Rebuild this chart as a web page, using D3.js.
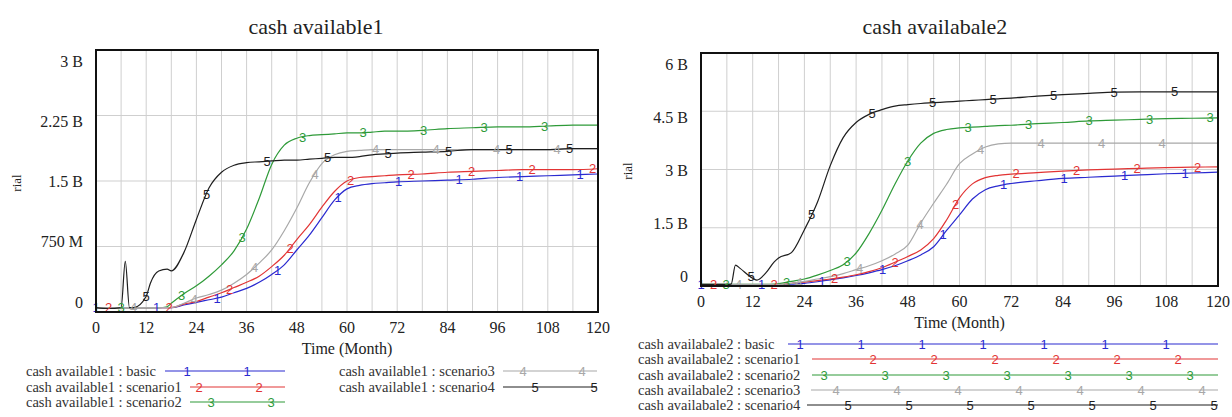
<!DOCTYPE html>
<html>
<head>
<meta charset="utf-8">
<script src="https://cdn.jsdelivr.net/npm/d3@7"></script>
<style>
body { margin: 0; background: #fff; }
svg { display: block; }
text { font-family: "Liberation Serif", "Times New Roman", serif; fill: #222; }
</style>
</head>
<body>
<svg width="1232" height="417"></svg>
<script>
// time grid (months) shared by both charts
const months = [0, 3, 6, 7, 8, 9, 12, 13, 15, 17, 18, 21, 24, 27, 30, 33, 36, 39, 42, 45, 48, 51, 54, 57, 60, 63, 66, 69, 72, 78, 84, 90, 96, 102, 108, 114, 120]

// cash available1, values in billion rial
const cash1Basic = [0.05, 0.05, 0.05, 0.05, 0.05, 0.05, 0.05, 0.05, 0.05, 0.05, 0.05, 0.08, 0.11, 0.14, 0.17, 0.22, 0.27, 0.34, 0.43, 0.54, 0.71, 0.88, 1.08, 1.28, 1.41, 1.45, 1.47, 1.48, 1.49, 1.50, 1.51, 1.52, 1.54, 1.55, 1.56, 1.57, 1.58]
const cash1Scen1 = [0.05, 0.05, 0.05, 0.05, 0.05, 0.05, 0.05, 0.05, 0.05, 0.05, 0.05, 0.09, 0.12, 0.17, 0.22, 0.28, 0.34, 0.41, 0.52, 0.65, 0.83, 1.00, 1.20, 1.38, 1.50, 1.54, 1.55, 1.56, 1.57, 1.58, 1.60, 1.61, 1.62, 1.63, 1.63, 1.63, 1.64]
const cash1Scen2 = [0.05, 0.05, 0.05, 0.05, 0.05, 0.05, 0.05, 0.05, 0.05, 0.06, 0.10, 0.21, 0.30, 0.41, 0.54, 0.70, 0.95, 1.30, 1.69, 1.91, 1.99, 2.02, 2.03, 2.04, 2.05, 2.05, 2.06, 2.07, 2.07, 2.08, 2.10, 2.11, 2.12, 2.12, 2.13, 2.14, 2.14]
const cash1Scen3 = [0.05, 0.05, 0.05, 0.05, 0.05, 0.05, 0.05, 0.05, 0.05, 0.05, 0.05, 0.10, 0.16, 0.20, 0.25, 0.33, 0.43, 0.56, 0.71, 0.93, 1.19, 1.48, 1.70, 1.80, 1.84, 1.85, 1.86, 1.86, 1.86, 1.86, 1.86, 1.86, 1.86, 1.86, 1.86, 1.87, 1.87]
const cash1Scen4 = [0.05, 0.04, 0.05, 0.58, 0.05, 0.05, 0.18, 0.33, 0.47, 0.49, 0.47, 0.68, 1.06, 1.42, 1.60, 1.68, 1.71, 1.72, 1.73, 1.74, 1.74, 1.75, 1.76, 1.77, 1.77, 1.78, 1.80, 1.81, 1.82, 1.83, 1.84, 1.86, 1.86, 1.86, 1.86, 1.87, 1.87]

// cash availabale2, values in billion rial
const cash2Basic = [0.03, 0.03, 0.03, 0.03, 0.03, 0.03, 0.03, 0.03, 0.03, 0.03, 0.03, 0.05, 0.07, 0.11, 0.16, 0.21, 0.27, 0.34, 0.42, 0.52, 0.65, 0.80, 1.01, 1.43, 1.83, 2.24, 2.48, 2.58, 2.64, 2.71, 2.77, 2.80, 2.83, 2.86, 2.89, 2.91, 2.93]
const cash2Scen1 = [0.03, 0.03, 0.03, 0.03, 0.03, 0.03, 0.03, 0.03, 0.03, 0.03, 0.03, 0.07, 0.10, 0.14, 0.18, 0.23, 0.29, 0.37, 0.47, 0.61, 0.76, 0.93, 1.22, 1.70, 2.27, 2.63, 2.79, 2.85, 2.88, 2.92, 2.96, 2.99, 3.01, 3.03, 3.05, 3.06, 3.07]
const cash2Scen2 = [0.04, 0.04, 0.04, 0.04, 0.04, 0.04, 0.04, 0.04, 0.04, 0.05, 0.06, 0.12, 0.18, 0.28, 0.40, 0.55, 0.85, 1.35, 1.95, 2.62, 3.22, 3.68, 3.93, 4.03, 4.07, 4.09, 4.11, 4.13, 4.14, 4.18, 4.21, 4.25, 4.27, 4.29, 4.31, 4.32, 4.33]
const cash2Scen3 = [0.04, 0.04, 0.04, 0.04, 0.04, 0.04, 0.04, 0.04, 0.04, 0.04, 0.04, 0.07, 0.12, 0.18, 0.24, 0.32, 0.42, 0.52, 0.65, 0.82, 1.05, 1.62, 2.13, 2.62, 3.15, 3.40, 3.58, 3.66, 3.68, 3.68, 3.68, 3.68, 3.68, 3.68, 3.68, 3.68, 3.68]
const cash2Scen4 = [0.04, 0.04, 0.04, 0.05, 0.54, 0.46, 0.20, 0.15, 0.33, 0.62, 0.72, 0.86, 1.45, 2.15, 3.10, 3.82, 4.21, 4.42, 4.54, 4.63, 4.67, 4.70, 4.72, 4.74, 4.76, 4.78, 4.80, 4.82, 4.84, 4.89, 4.93, 4.96, 4.99, 5.00, 5.00, 5.00, 5.00]

const xTicks = [0, 12, 24, 36, 48, 60, 72, 84, 96, 108, 120]
const yTicks1 = [0, 0.75, 1.5, 2.25, 3]
const yLabels1 = ["0", "750 M", "1.5 B", "2.25 B", "3 B"]
const yTicks2 = [0, 1.5, 3, 4.5, 6]
const yLabels2 = ["0", "1.5 B", "3 B", "4.5 B", "6 B"]
const scenarioNames = ["basic", "scenario1", "scenario2", "scenario3", "scenario4"]
const colors = ["#2a2ad0", "#e23434", "#2e9a38", "#a8a8a8", "#1e1e1e"]

const svg = d3.select("svg")

function valueAt(series, t) {
  let i = d3.bisectRight(months, t)
  if (i <= 0) return series[0]
  if (i >= months.length) return series[series.length - 1]
  let t0 = months[i - 1], t1 = months[i]
  let f = (t - t0) / (t1 - t0)
  return series[i - 1] + f * (series[i] - series[i - 1])
}

function drawChart(opt) {
  const g = svg.append("g")
  const x = d3.scaleLinear().domain([0, 120]).range([opt.left, opt.right])
  const y = d3.scaleLinear().domain([0, opt.yMax]).range([opt.bottom, opt.top])
  // vensim squeezes the y labels inside the frame
  const yLab = d3.scaleLinear().domain([0, opt.yMax]).range([opt.bottom - 10, opt.top + 11])

  // grid
  g.append("g").selectAll("line").data(d3.range(6, 120, 6)).enter().append("line")
    .attr("x1", d => x(d)).attr("x2", d => x(d))
    .attr("y1", opt.top).attr("y2", opt.bottom)
    .attr("stroke", "#cfcfcf").attr("stroke-width", 1)
  g.append("g").selectAll("line").data(opt.yTicks.slice(1, -1)).enter().append("line")
    .attr("x1", opt.left).attr("x2", opt.right)
    .attr("y1", d => y(d)).attr("y2", d => y(d))
    .attr("stroke", "#cfcfcf").attr("stroke-width", 1)

  // series lines
  const line = d3.line().x((d, i) => x(months[i])).y(d => y(d)).curve(d3.curveMonotoneX)
  opt.series.forEach((s, k) => {
    g.append("path").datum(s).attr("d", line)
      .attr("fill", "none").attr("stroke", colors[k]).attr("stroke-width", 1.2)
  })
  // numbered markers along the lines
  opt.series.forEach((s, k) => {
    let pts = []
    for (let px = opt.left + k * 12.5; px <= opt.right; px += 60.5) {
      let t = x.invert(px)
      pts.push([px, y(valueAt(s, t))])
    }
    g.append("g").selectAll("text").data(pts).enter().append("text")
      .attr("x", d => d[0]).attr("y", d => d[1])
      .attr("text-anchor", "middle").attr("dominant-baseline", "central")
      .style("font-family", "'Liberation Sans', Arial, sans-serif")
      .style("font-size", "13px").style("fill", colors[k])
      .text(k + 1)
  })

  // frame
  g.append("rect").attr("x", opt.left).attr("y", opt.top)
    .attr("width", opt.right - opt.left).attr("height", opt.bottom - opt.top)
    .attr("fill", "none").attr("stroke", "#111").attr("stroke-width", 2)

  // tick labels
  g.append("g").selectAll("text").data(xTicks).enter().append("text")
    .attr("x", d => x(d)).attr("y", opt.bottom + 21)
    .attr("text-anchor", "middle").style("font-size", "16px").text(d => d)
  g.append("g").selectAll("text").data(opt.yTicks).enter().append("text")
    .attr("x", opt.left - 13).attr("y", d => yLab(d) + 5.5)
    .attr("text-anchor", "end").style("font-size", "16px")
    .text((d, i) => opt.yLabels[i])

  g.append("text").attr("x", (opt.left + opt.right) / 2).attr("y", opt.bottom + 42)
    .attr("text-anchor", "middle").style("font-size", "16px").text("Time (Month)")
  g.append("text").attr("transform", `translate(${opt.rialX},${opt.rialY}) rotate(-90)`)
    .attr("text-anchor", "middle").style("font-size", "13px").text("rial")
  g.append("text").attr("x", opt.titleX).attr("y", 34)
    .attr("text-anchor", "middle").style("font-size", "22px").text(opt.title)

  // legend
  opt.legend.forEach(row => {
    let k = row.k
    g.append("text").attr("x", row.tx).attr("y", row.y + 5)
      .style("font-size", "14.5px").style("fill", "#333")
      .text(opt.name + " : " + scenarioNames[k])
    g.append("line").attr("x1", row.x1).attr("x2", row.x2)
      .attr("y1", row.y).attr("y2", row.y)
      .attr("stroke", colors[k]).attr("stroke-width", 1.2)
    let marks = []
    for (let px = row.mx + k * 12; px <= row.x2 + 2; px += row.step) {
      if (px >= row.x1 + 6) marks.push(px)
    }
    g.append("g").selectAll("text").data(marks).enter().append("text")
      .attr("x", d => d).attr("y", row.y)
      .attr("text-anchor", "middle").attr("dominant-baseline", "central")
      .style("font-family", "'Liberation Sans', Arial, sans-serif")
      .style("font-size", "13px").style("fill", colors[k])
      .text(k + 1)
  })
}

drawChart({
  name: "cash available1", title: "cash available1", titleX: 316,
  left: 96, right: 598, top: 50, bottom: 312, yMax: 3,
  yTicks: yTicks1, yLabels: yLabels1, rialX: 21, rialY: 183,
  series: [cash1Basic, cash1Scen1, cash1Scen2, cash1Scen3, cash1Scen4],
  legend: [
    { k: 0, tx: 26, y: 371, x1: 165, x2: 285, mx: 187, step: 60 },
    { k: 1, tx: 26, y: 387, x1: 190, x2: 285, mx: 187, step: 60 },
    { k: 2, tx: 26, y: 402, x1: 190, x2: 285, mx: 187, step: 60 },
    { k: 3, tx: 339, y: 371, x1: 503, x2: 597, mx: 487, step: 59 },
    { k: 4, tx: 339, y: 387, x1: 503, x2: 597, mx: 487, step: 59 }
  ]
})

drawChart({
  name: "cash availabale2", title: "cash availabale2", titleX: 935,
  left: 701, right: 1218, top: 53, bottom: 286, yMax: 6,
  yTicks: yTicks2, yLabels: yLabels2, rialX: 632, rialY: 171,
  series: [cash2Basic, cash2Scen1, cash2Scen2, cash2Scen3, cash2Scen4],
  legend: [
    { k: 0, tx: 638, y: 344, x1: 788, x2: 1218, mx: 800, step: 61 },
    { k: 1, tx: 638, y: 359, x1: 812, x2: 1218, mx: 800, step: 61 },
    { k: 2, tx: 638, y: 375, x1: 812, x2: 1218, mx: 800, step: 61 },
    { k: 3, tx: 638, y: 390, x1: 811, x2: 1218, mx: 800, step: 61 },
    { k: 4, tx: 638, y: 405, x1: 807, x2: 1218, mx: 800, step: 61 }
  ]
})
</script>
</body>
</html>
